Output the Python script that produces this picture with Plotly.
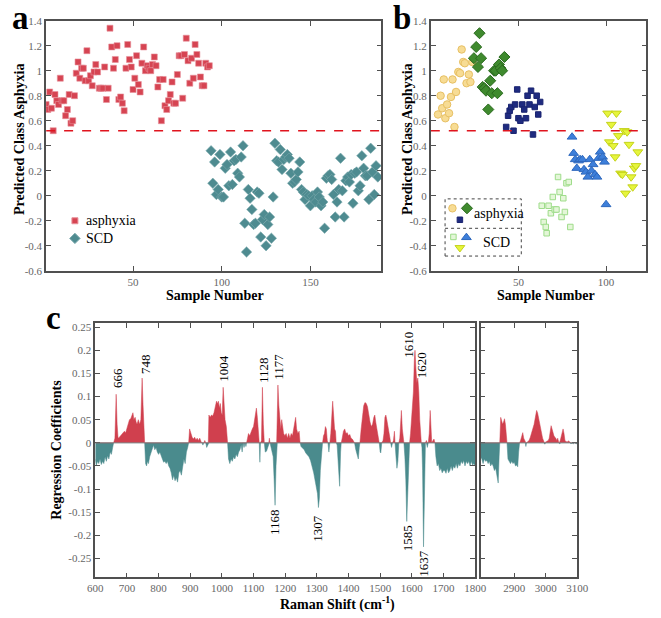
import plotly.graph_objects as go

W, H = 661, 618

# ---------------- Panel a data ----------------
asph_a = [0.73,0.69,0.83,0.70,0.52,0.81,0.76,0.73,0.94,0.76,0.76,0.64,0.69,0.81,0.58,0.60,0.80,0.98,1.07,0.94,
          1.02,1.02,0.92,1.16,0.92,0.96,0.88,0.99,1.05,0.99,0.86,0.86,0.86,1.03,0.77,0.86,1.34,1.19,1.02,1.09,
          1.20,0.77,0.79,0.74,0.68,1.02,1.21,1.09,1.03,0.85,0.94,1.12,0.89,0.83,1.06,1.19,1.00,1.04,1.02,1.00,
          1.05,1.11,1.04,0.87,0.93,0.60,0.93,0.72,0.69,0.76,0.81,0.91,0.74,0.74,0.97,1.12,1.12,0.78,1.13,1.26,
          1.08,0.90,1.10,0.94,1.21,1.13,1.06,0.95,0.88,0.88,1.06,1.03,1.04]
scd_a = [0.36,0.10,0.27,0.01,0.05,0.33,-0.01,-0.01,0.22,0.25,0.08,0.35,0.09,0.28,0.29,0.18,0.15,0.31,0.40,-0.22,
         -0.45,0.05,-0.02,-0.11,-0.23,-0.22,0.03,0.02,-0.33,-0.19,-0.15,-0.40,-0.23,-0.17,-0.34,-0.01,0.42,0.28,0.27,0.37,
         0.21,0.29,0.31,0.33,0.30,0.18,0.10,0.11,0.13,0.19,0.27,0.05,0.03,-0.03,0.01,0.00,-0.08,0.00,-0.03,-0.05,
         0.03,-0.01,-0.08,-0.05,-0.26,0.14,0.16,0.17,0.13,0.01,-0.17,-0.05,0.05,0.30,0.04,-0.17,0.12,0.15,0.11,0.17,
         -0.06,0.18,0.19,0.04,0.08,0.32,0.22,0.16,0.16,-0.03,0.38,0.19,0.01,0.24,0.15]
sample_asph_a = list(range(1, len(asph_a) + 1))
sample_scd_a = list(range(len(asph_a) + 1, len(asph_a) + len(scd_a) + 1))
threshold = 0.52

# ---------------- Panel b data ----------------
b_circ_x = [4.1,5.6,6.5,7.4,8.3,9.3,10.4,11.5,12.4,13.5,14.4,15.7,16.7,17.6,18.5,19.4,20.4,21.7,22.6,23.7]
b_circ_y = [0.65,0.80,0.70,0.93,0.62,0.73,0.66,0.79,0.93,0.55,0.83,0.99,0.98,1.17,1.07,1.06,0.90,0.97,0.91,1.07]
b_diam_x = [24.6,25.9,26.9,27.8,28.7,29.6,30.6,31.5,32.8,33.9,34.8,36.1,37.0,38.0,38.9,39.8,40.7,42.0]
b_diam_y = [1.10,1.19,1.03,1.30,1.10,0.87,0.86,0.84,0.69,0.92,0.82,1.00,1.00,0.82,1.05,1.02,1.00,1.11]
b_sq_x = [43.0,44.1,45.0,45.9,47.2,48.1,49.3,50.0,51.1,52.2,53.3,54.3,55.2,56.3,57.2,58.3,59.3,60.4,61.3,62.4]
b_sq_y = [0.55,0.64,0.68,0.71,0.52,0.73,0.85,0.62,0.60,0.73,0.69,0.62,0.80,0.73,0.84,0.49,0.71,0.80,0.65,0.75]
b_osq_x = [63.3,64.4,65.6,66.1,67.2,68.5,69.6,70.7,71.7,72.6,73.5,74.6,75.6,76.5,77.4,78.7,79.6]
b_osq_y = [-0.08,-0.21,-0.25,-0.30,-0.08,-0.14,-0.01,-0.11,-0.11,0.15,0.03,-0.17,-0.02,-0.13,0.10,0.11,-0.25]
b_tri_x = [80.6,81.5,82.4,83.3,84.3,85.2,86.5,87.4,88.5,89.6,90.7,91.7,92.6,93.7,94.8,95.7,96.7,98.0,99.1,100.0]
b_tri_y = [0.47,0.34,0.29,0.22,0.28,0.29,0.29,0.21,0.19,0.15,0.29,0.20,0.25,0.17,0.15,0.30,0.35,0.31,0.27,-0.07]
b_dtri_x = [100.9,101.9,103.0,104.1,105.2,105.9,107.0,108.3,109.3,110.4,111.1,112.0,113.1,114.3,115.2,116.1,117.0,118.1]
b_dtri_y = [0.66,0.43,0.57,0.40,0.31,0.66,0.48,0.18,0.17,0.52,0.02,0.51,0.41,0.15,0.07,0.22,0.24,0.35]

ab_ytickvals = [-0.6,-0.4,-0.2,0,0.2,0.4,0.6,0.8,1,1.2,1.4]
ab_yticktext = ["-0.6","-0.4","-0.2","0","0.2","0.4","0.6","0.8","1","1.2","1.4"]

# ---------------- Panel c data ----------------
shift_lo = [600,603,607,611,615,619,623,627,631,635,639,643,647,651,655,658,662,666,669,672,676,680,684,688,692,696,
            700,704,708,712,716,719,722,726,729,732,736,740,744,748,751,754,756,759,762,765,768,772,776,780,784,788,
            792,796,800,804,808,812,816,820,824,828,832,836,840,844,848,852,856,860,864,868,872,876,880,884,888,892,
            895,898,902,906,910,914,918,922,926,930,934,937,940,943,946,949,952,955,957,959,963,967,971,975,979,983,
            986,989,992,995,998,1001,1004,1007,1010,1014,1018,1021,1025,1029,1033,1037,1041,1045,1049,1053,1057,1061,
            1064,1067,1070,1073,1076,1078,1081,1084,1088,1092,1096,1100,1103,1106,1109,1112,1115,1118,1120,1122,1125,
            1128,1131,1134,1137,1141,1145,1148,1150,1152,1156,1162,1165,1168,1171,1173,1175,1177,1180,1183,1186,1189,
            1192,1195,1199,1203,1207,1211,1215,1219,1223,1227,1230,1233,1236,1240,1244,1247,1250,1255,1260,1265,1270,
            1275,1280,1285,1290,1294,1298,1302,1305,1308,1311,1315,1318,1321,1324,1327,1330,1333,1335,1338,1341,1344,
            1347,1350,1353,1356,1359,1361,1364,1368,1372,1375,1377,1380,1384,1388,1392,1396,1400,1404,1408,1412,1416,
            1419,1423,1427,1431,1434,1436,1440,1444,1448,1452,1456,1460,1464,1468,1472,1476,1480,1483,1486,1490,1494,
            1497,1500,1502,1505,1509,1512,1515,1518,1521,1524,1528,1531,1533,1536,1539,1542,1545,1547,1550,1553,1556,
            1559,1562,1565,1567,1570,1573,1575,1578,1581,1584,1587,1590,1593,1596,1599,1602,1605,1608,1610,1613,1616,
            1619,1622,1625,1628,1630,1632,1634,1637,1640,1643,1646,1649,1652,1655,1658,1661,1663,1667,1670,1673,1676,
            1680,1684,1688,1692,1696,1700,1704,1708,1712,1716,1720,1724,1728,1732,1736,1740,1744,1748,1752,1756,1760,
            1764,1768,1772,1776,1780,1784,1788,1792,1796,1800]
coef_lo = [-0.035,-0.05,-0.04,-0.045,-0.035,-0.047,-0.04,-0.045,-0.03,-0.04,-0.028,-0.035,-0.02,-0.025,-0.01,0,0.01,
           0.105,0.04,0.01,0.012,0.015,0.018,0.02,0.025,0.022,0.03,0.038,0.05,0.052,0.06,0.065,0.05,0.055,0.045,0.04,
           0.05,0.04,0.05,0.14,0.08,0.02,0,-0.045,-0.05,-0.04,-0.045,-0.03,-0.02,-0.01,-0.005,-0.015,-0.01,-0.02,
           -0.025,-0.02,-0.03,-0.035,-0.042,-0.04,-0.045,-0.04,-0.05,-0.055,-0.065,-0.08,-0.07,-0.082,-0.075,-0.085,
           -0.065,-0.06,-0.07,-0.055,-0.035,-0.045,-0.02,-0.01,0,0.03,0.02,0.012,0.008,0.012,0.006,0.01,0.005,0.01,
           0.003,0,-0.005,0,0.005,0,-0.01,-0.005,0,0.06,0.055,0.06,0.058,0.065,0.08,0.09,0.085,0.09,0.075,0.085,0.065,
           0.06,0.12,0.08,0.05,0.035,0,-0.035,-0.045,-0.035,-0.04,-0.03,-0.035,-0.025,-0.03,-0.02,-0.015,-0.005,-0.02,
           0,-0.01,0,-0.008,0,0.01,0.02,0.015,0.025,0.03,0.035,0.05,0.065,0.075,0.055,0.02,0,-0.042,0,0.005,0.12,0.04,
           0,-0.02,-0.018,-0.01,0,0.01,0,-0.01,-0.03,-0.08,-0.135,-0.05,0,0.06,0.125,0.08,0.045,0.03,0.05,0.035,0.02,
           0.015,0.02,0.01,0.02,0.01,0.02,0.015,0.03,0.045,0.055,0.03,0.02,0.025,0,-0.008,-0.012,-0.015,-0.022,-0.025,
           -0.03,-0.038,-0.05,-0.065,-0.08,-0.095,-0.11,-0.14,-0.12,-0.06,-0.02,0,0.015,0.02,0.035,0.03,0.005,0,-0.02,
           0,0.02,0.07,0.09,0.06,0.03,0.025,0,-0.005,-0.04,-0.094,-0.02,0,0.01,0.025,0.03,0.02,0.022,0.015,0.018,0.01,
           0.008,0.003,0,-0.015,-0.025,-0.035,-0.01,0,0.03,0.06,0.08,0.087,0.085,0.078,0.06,0.045,0.035,0.04,0.055,
           0.06,0.045,0.03,0.015,0,-0.02,-0.022,0,0.005,0.02,0.055,0.06,0.05,0.04,0.025,0.01,0,-0.01,0,0.005,0.025,0,
           -0.03,-0.055,-0.04,0,0.01,0.05,0.07,0.03,0.005,0,-0.03,-0.08,-0.17,-0.1,-0.02,0,0.02,0.05,0.07,0.11,0.18,
           0.2,0.16,0.13,0.14,0.11,0.05,0.015,0,-0.01,-0.06,-0.225,-0.08,0,0.005,-0.01,0,0.02,0.07,0.03,0,0.005,0.008,
           0,-0.03,-0.05,-0.045,-0.06,-0.055,-0.065,-0.06,-0.06,-0.066,-0.055,-0.065,-0.06,-0.05,-0.06,-0.05,-0.055,
           -0.045,-0.055,-0.045,-0.05,-0.04,-0.045,-0.038,-0.05,-0.04,-0.045,-0.04,-0.05,-0.04,-0.048,-0.045,-0.05]
shift_hi = [2793,2797,2801,2805,2809,2813,2817,2821,2825,2829,2833,2837,2841,2845,2849,2852,2854,2857,2860,2863,2866,
            2869,2872,2875,2877,2880,2884,2888,2892,2896,2900,2904,2908,2911,2914,2917,2920,2924,2927,2930,2933,2935,
            2937,2939,2943,2947,2951,2955,2959,2963,2967,2971,2974,2978,2982,2986,2990,2994,2997,3000,3004,3008,3011,
            3014,3017,3020,3023,3026,3029,3032,3035,3038,3041,3043,3046,3049,3052,3055,3058,3061,3064,3068,3072,3076,
            3080,3084,3088,3092,3096,3100]
coef_hi = [-0.03,-0.035,-0.045,-0.035,-0.04,-0.038,-0.045,-0.04,-0.05,-0.045,-0.05,-0.06,-0.055,-0.07,-0.087,-0.03,0,
           0.055,0.045,0.04,0.045,0.052,0.04,0.01,0,-0.035,-0.04,-0.045,-0.04,-0.045,-0.042,-0.05,-0.048,-0.052,-0.02,
           0,0.005,0.015,0.022,0.01,0.005,0,-0.008,0,0.002,0.005,0.012,0.02,0.03,0.04,0.055,0.07,0.065,0.05,0.035,
           0.02,0.01,0.003,-0.003,0.002,0.003,0.005,0.01,0.03,0.037,0.03,0.02,0.015,0.012,0.01,0.005,0.01,0.002,
           -0.002,0.005,0.015,0.028,0.03,0.02,0.005,0.003,0.002,0.004,0.001,-0.002,-0.001,-0.002,0,-0.002,-0.002]

peak_labels = ["666","748","1004","1128","1177","1168","1307","1610","1620","1585","1637"]
peak_label_x = [670,758,1006,1131,1180,1167,1302,1589,1631,1585,1636]
peak_label_y = [0.141,0.171,0.162,0.158,0.164,-0.172,-0.185,0.213,0.167,-0.206,-0.261]

c_ytickvals = [-0.25,-0.2,-0.15,-0.1,-0.05,0,0.05,0.1,0.15,0.2,0.25]
c_yticktext = ["-0.25","-0.2","-0.15","-0.1","-0.05","0","0.05","0.1","0.15","0.2","0.25"]

# ---------------- styling ----------------
SERIF = "Liberation Serif, Times New Roman, serif"
RED = "#d64452"
TEAL = "#4e8b90"
CRED = "#d0404e"
CTEAL = "#4a8b8d"
AX = "#505050"

def px_x(v):
    return v / W

def px_y(v):
    return 1 - v / H

fig = go.Figure()

# Panel a
fig.add_trace(go.Scatter(x=sample_asph_a, y=asph_a, mode="markers", xaxis="x", yaxis="y",
                         marker=dict(symbol="square", size=6, color=RED, line=dict(color="#e8909a", width=0.6)),
                         name="asphyxia", showlegend=False))
fig.add_trace(go.Scatter(x=sample_scd_a, y=scd_a, mode="markers", xaxis="x", yaxis="y",
                         marker=dict(symbol="diamond", size=8, color=TEAL, line=dict(color="#7aa9ad", width=0.6)),
                         name="SCD", showlegend=False))

# Panel b
b_groups = [
    (b_circ_x, b_circ_y, "circle", 7.5, "#f7dc94", "#e7c064"),
    (b_diam_x, b_diam_y, "diamond", 8.5, "#3f8a2e", "#2a6a1e"),
    (b_sq_x, b_sq_y, "square", 5.5, "#1f2b80", "#1a2470"),
    (b_osq_x, b_osq_y, "square", 5.5, "#e4f6d8", "#9edc8a"),
    (b_tri_x, b_tri_y, "triangle-up", 8.5, "#3d7fda", "#2e68bd"),
    (b_dtri_x, b_dtri_y, "triangle-down", 8.5, "#e6f53c", "#c4d21a"),
]
for gx, gy, sym, sz, fc, lc in b_groups:
    fig.add_trace(go.Scatter(x=gx, y=gy, mode="markers", xaxis="x2", yaxis="y2",
                             marker=dict(symbol=sym, size=sz, color=fc, line=dict(color=lc, width=1)),
                             showlegend=False))

# Panel c
def split(vals):
    pos = [v if v > 0 else 0 for v in vals]
    neg = [v if v < 0 else 0 for v in vals]
    return pos, neg

for sx, cv, xa, ya in [(shift_lo, coef_lo, "x3", "y3"), (shift_hi, coef_hi, "x4", "y4")]:
    pos, neg = split(cv)
    fig.add_trace(go.Scatter(x=sx, y=neg, mode="lines", fill="tozeroy", xaxis=xa, yaxis=ya,
                             line=dict(color=CTEAL, width=0.5), fillcolor=CTEAL, showlegend=False))
    fig.add_trace(go.Scatter(x=sx, y=pos, mode="lines", fill="tozeroy", xaxis=xa, yaxis=ya,
                             line=dict(color=CRED, width=0.5), fillcolor=CRED, showlegend=False))

# Legend glyphs on a pixel overlay axis
leg_a = [(69, 219, "square", 6, RED, "#e8909a"), (69, 237, "diamond", 8, TEAL, "#7aa9ad")]
leg_b = [(458.3, 206.3, "circle", 7.5, "#f7dc94", "#e7c064"), (473.3, 206.3, "diamond", 8.5, "#3f8a2e", "#2a6a1e"),
         (466, 218, "square", 5.5, "#1f2b80", "#1a2470"), (459.3, 235.5, "square", 5.5, "#e4f6d8", "#9edc8a"),
         (472.7, 236, "triangle-up", 8.5, "#3d7fda", "#2e68bd"), (466, 246.5, "triangle-down", 8.5, "#e6f53c", "#c4d21a")]
for lx, ly, sym, sz, fc, lc in leg_a + leg_b:
    fig.add_trace(go.Scatter(x=[lx], y=[ly], mode="markers", xaxis="x5", yaxis="y5",
                             marker=dict(symbol=sym, size=sz, color=fc, line=dict(color=lc, width=1)),
                             showlegend=False, hoverinfo="skip"))

tickfont = dict(family=SERIF, size=11, color="#666666")
common = dict(showline=True, linecolor=AX, linewidth=1.6, mirror="ticks", ticks="inside", ticklen=5,
              tickwidth=1, tickcolor=AX, showgrid=False, zeroline=False, tickfont=tickfont)

fig.update_layout(
    width=W, height=H, autosize=False, margin=dict(l=0, r=0, t=0, b=0),
    paper_bgcolor="white", plot_bgcolor="rgba(0,0,0,0)", showlegend=False,
    xaxis=dict(domain=[px_x(39.3), px_x(385)], range=[1, 190], anchor="y", tickvals=[50, 100, 150], **common),
    yaxis=dict(domain=[px_y(270), px_y(15)], range=[-0.6, 1.4], anchor="x",
               tickvals=ab_ytickvals, ticktext=ab_yticktext, **common),
    xaxis2=dict(domain=[px_x(436), px_x(658.3)], range=[0, 123], anchor="y2", tickvals=[50, 100], **common),
    yaxis2=dict(domain=[px_y(270), px_y(15)], range=[-0.6, 1.4], anchor="x2",
                tickvals=ab_ytickvals, ticktext=ab_yticktext, **common),
    xaxis3=dict(domain=[px_x(90), px_x(481.7)], range=[600, 1800], anchor="y3",
                tickvals=list(range(600, 1801, 100)), **common),
    yaxis3=dict(domain=[px_y(582.7), px_y(323.3)], range=[-0.291, 0.259], anchor="x3",
                tickvals=c_ytickvals, ticktext=c_yticktext, **common),
    xaxis4=dict(domain=[px_x(487.3), px_x(587)], range=[2793, 3100], anchor="y4",
                tickvals=[2900, 3000, 3100], **common),
    yaxis4=dict(domain=[px_y(582.7), px_y(323.3)], range=[-0.291, 0.259], anchor="x4",
                tickvals=c_ytickvals, showticklabels=False, **common),
    xaxis5=dict(domain=[0, 1], range=[0, W], anchor="y5", visible=False, fixedrange=True),
    yaxis5=dict(domain=[0, 1], range=[H, 0], anchor="x5", visible=False, fixedrange=True),
)

# threshold lines
fig.add_shape(type="line", xref="x", yref="y", x0=1, x1=190, y0=threshold, y1=threshold,
              line=dict(color="#e0141e", width=1.5, dash="dash"))
fig.add_shape(type="line", xref="x2", yref="y2", x0=0, x1=123, y0=threshold, y1=threshold,
              line=dict(color="#e0141e", width=1.5, dash="dash"))
# zero line in c
fig.add_shape(type="line", xref="x3", yref="y3", x0=600, x1=1800, y0=0, y1=0, line=dict(color="#777777", width=0.8))
fig.add_shape(type="line", xref="x4", yref="y4", x0=2793, x1=3100, y0=0, y1=0, line=dict(color="#777777", width=0.8))

# panel b legend box
fig.add_shape(type="rect", xref="paper", yref="paper", x0=px_x(450.7), x1=px_x(529.3), y0=px_y(255), y1=px_y(196.7),
              line=dict(color="#444444", width=1, dash="dot"))
fig.add_shape(type="line", xref="paper", yref="paper", x0=px_x(450.7), x1=px_x(529.3), y0=px_y(226.7), y1=px_y(226.7),
              line=dict(color="#444444", width=1, dash="dot"))

ann = []
def text(x, y, s, size=14, bold=False, xanchor="center", angle=0, xref="paper", yref="paper"):
    ann.append(dict(x=x, y=y, xref=xref, yref=yref, text=("<b>%s</b>" % s) if bold else s, showarrow=False,
                    xanchor=xanchor, yanchor="middle", textangle=angle,
                    font=dict(family=SERIF, size=size, color="black")))

# panel letters
text(px_x(13), px_y(12), "a", size=33, bold=True)
text(px_x(406), px_y(12), "b", size=33, bold=True)
text(px_x(47), px_y(318), "c", size=33, bold=True)
# axis titles
text(px_x(12), px_y(136), "Predicted Class Asphyxia", size=14, bold=True, angle=-90)
text(px_x(412), px_y(136), "Predicted Class Asphyxia", size=14, bold=True, angle=-90)
text(px_x(213), px_y(295), "Sample Number", size=14, bold=True)
text(px_x(555), px_y(295), "Sample Number", size=14, bold=True)
text(px_x(50), px_y(452), "Regression Coefficients", size=14, bold=True, angle=-90)
text(px_x(340), px_y(609), "Raman Shift (cm<sup>-1</sup>)", size=14, bold=True)
# legends
text(px_x(78), px_y(219), "asphyxia", size=14, xanchor="left")
text(px_x(78), px_y(237), "SCD", size=14, xanchor="left")
text(px_x(478), px_y(212), "asphyxia", size=14, xanchor="left")
text(px_x(488), px_y(241), "SCD", size=14, xanchor="left")
# peak labels
for lab, lx, ly in zip(peak_labels, peak_label_x, peak_label_y):
    text(lx, ly, lab, size=13, angle=-90, xref="x3", yref="y3")

fig.update_layout(annotations=ann)
fig.write_html("out.html", config={"displayModeBar": False},
               post_script="document.body.style.margin='0px';")
